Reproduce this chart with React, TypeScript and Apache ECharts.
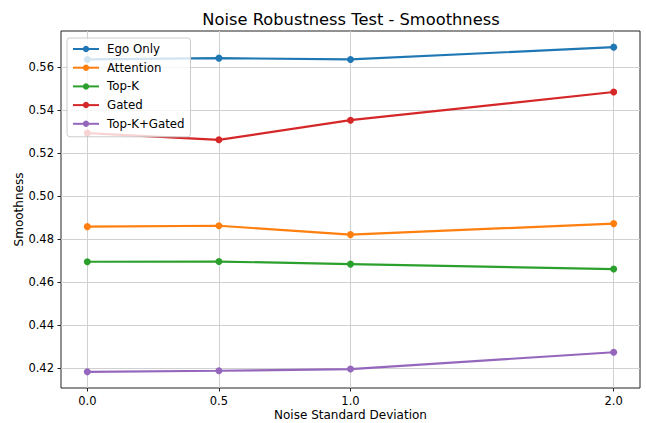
import React, { useEffect, useRef } from "react";
import * as echarts from "echarts";

// Noise levels on the x axis and the tick positions drawn on both axes
const noiseLevels = [0.0, 0.5, 1.0, 2.0];
const xTicks = [0.0, 0.5, 1.0, 2.0];
const yTicks = [0.42, 0.44, 0.46, 0.48, 0.5, 0.52, 0.54, 0.56];

// Smoothness per method at each noise level
const seriesNames = ["Ego Only", "Attention", "Top-K", "Gated", "Top-K+Gated"];
const egoOnly = [0.5634, 0.564, 0.5634, 0.5691];
const attention = [0.4858, 0.4862, 0.4821, 0.4872];
const topK = [0.4695, 0.4696, 0.4684, 0.4661];
const gated = [0.5292, 0.5261, 0.5352, 0.5483];
const topKGated = [0.4184, 0.4189, 0.4197, 0.4275];

const colors = ["#1f77b4", "#ff7f0e", "#2ca02c", "#d62728", "#9467bd"];

// Axis bounds with a 5% margin around the data
const xMin = -0.1;
const xMax = 2.1;
const yMin = 0.4109;
const yMax = 0.5766;

const FONT = "DejaVu Sans";

export default function App() {
  const ref = useRef<HTMLDivElement>(null);

  useEffect(() => {
    if (!ref.current) return;
    const chart = echarts.init(ref.current, null, { renderer: "svg" });
    const allValues = [egoOnly, attention, topK, gated, topKGated];

    chart.setOption({
      animation: false,
      backgroundColor: "#ffffff",
      title: {
        text: "Noise Robustness Test - Smoothness",
        left: 351,
        top: 11,
        padding: 0,
        textAlign: "center",
        textStyle: {
          fontFamily: FONT,
          fontSize: 16.3,
          fontWeight: "normal",
          color: "#000",
        },
      },
      legend: {
        orient: "vertical",
        left: 67,
        top: 38,
        padding: [4, 6, 6, 5],
        itemWidth: 26,
        itemHeight: 8,
        itemGap: 4.7,
        backgroundColor: "rgba(255,255,255,0.8)",
        borderColor: "#cccccc",
        borderWidth: 1,
        borderRadius: 3,
        data: seriesNames,
        textStyle: {
          fontFamily: FONT,
          fontSize: 11.8,
          lineHeight: 14,
          color: "#000",
          padding: [0, 0, 0, 3],
        },
      },
      grid: {
        left: 61,
        right: 6,
        top: 31,
        bottom: 35,
        outerBoundsMode: "none",
        show: true,
        borderColor: "#222",
        borderWidth: 1,
        backgroundColor: "transparent",
      },
      xAxis: {
        type: "value",
        min: xMin,
        max: xMax,
        name: "Noise Standard Deviation",
        nameLocation: "middle",
        nameGap: 21,
        nameMoveOverlap: false,
        nameTextStyle: { fontFamily: FONT, fontSize: 12, color: "#000" },
        axisLine: { show: false, onZero: false },
        axisTick: {
          show: true,
          inside: false,
          length: 3.5,
          customValues: xTicks,
          lineStyle: { color: "#222", width: 1 },
        },
        axisLabel: {
          customValues: xTicks,
          margin: 6.5,
          fontFamily: FONT,
          fontSize: 11.5,
          color: "#000",
          formatter: (v: number) => v.toFixed(1),
        },
        splitLine: {
          show: true,
          lineStyle: { color: "#d0d0d0", width: 1 },
        },
      },
      yAxis: {
        type: "value",
        min: yMin,
        max: yMax,
        name: "Smoothness",
        nameLocation: "middle",
        nameRotate: 90,
        nameGap: 36,
        nameMoveOverlap: false,
        nameTextStyle: { fontFamily: FONT, fontSize: 12, color: "#000" },
        axisLine: { show: false, onZero: false },
        axisTick: {
          show: true,
          inside: false,
          length: 3.5,
          customValues: yTicks,
          lineStyle: { color: "#222", width: 1 },
        },
        axisLabel: {
          customValues: yTicks,
          margin: 7,
          fontFamily: FONT,
          fontSize: 11.5,
          color: "#000",
          formatter: (v: number) => v.toFixed(2),
        },
        splitLine: {
          show: true,
          lineStyle: { color: "#d0d0d0", width: 1 },
        },
      },
      series: seriesNames.map((name, i) => ({
        name,
        type: "line",
        data: noiseLevels.map((x, j) => [x, allValues[i][j]]),
        symbol: "circle",
        symbolSize: 7,
        showSymbol: true,
        color: colors[i],
        lineStyle: { width: 2.2, color: colors[i] },
        itemStyle: { color: colors[i] },
        emphasis: { disabled: true },
      })),
    });

    return () => chart.dispose();
  }, []);

  return (
    <div
      ref={ref}
      style={{ position: "fixed", left: 0, top: 0, width: 646, height: 423 }}
    />
  );
}
